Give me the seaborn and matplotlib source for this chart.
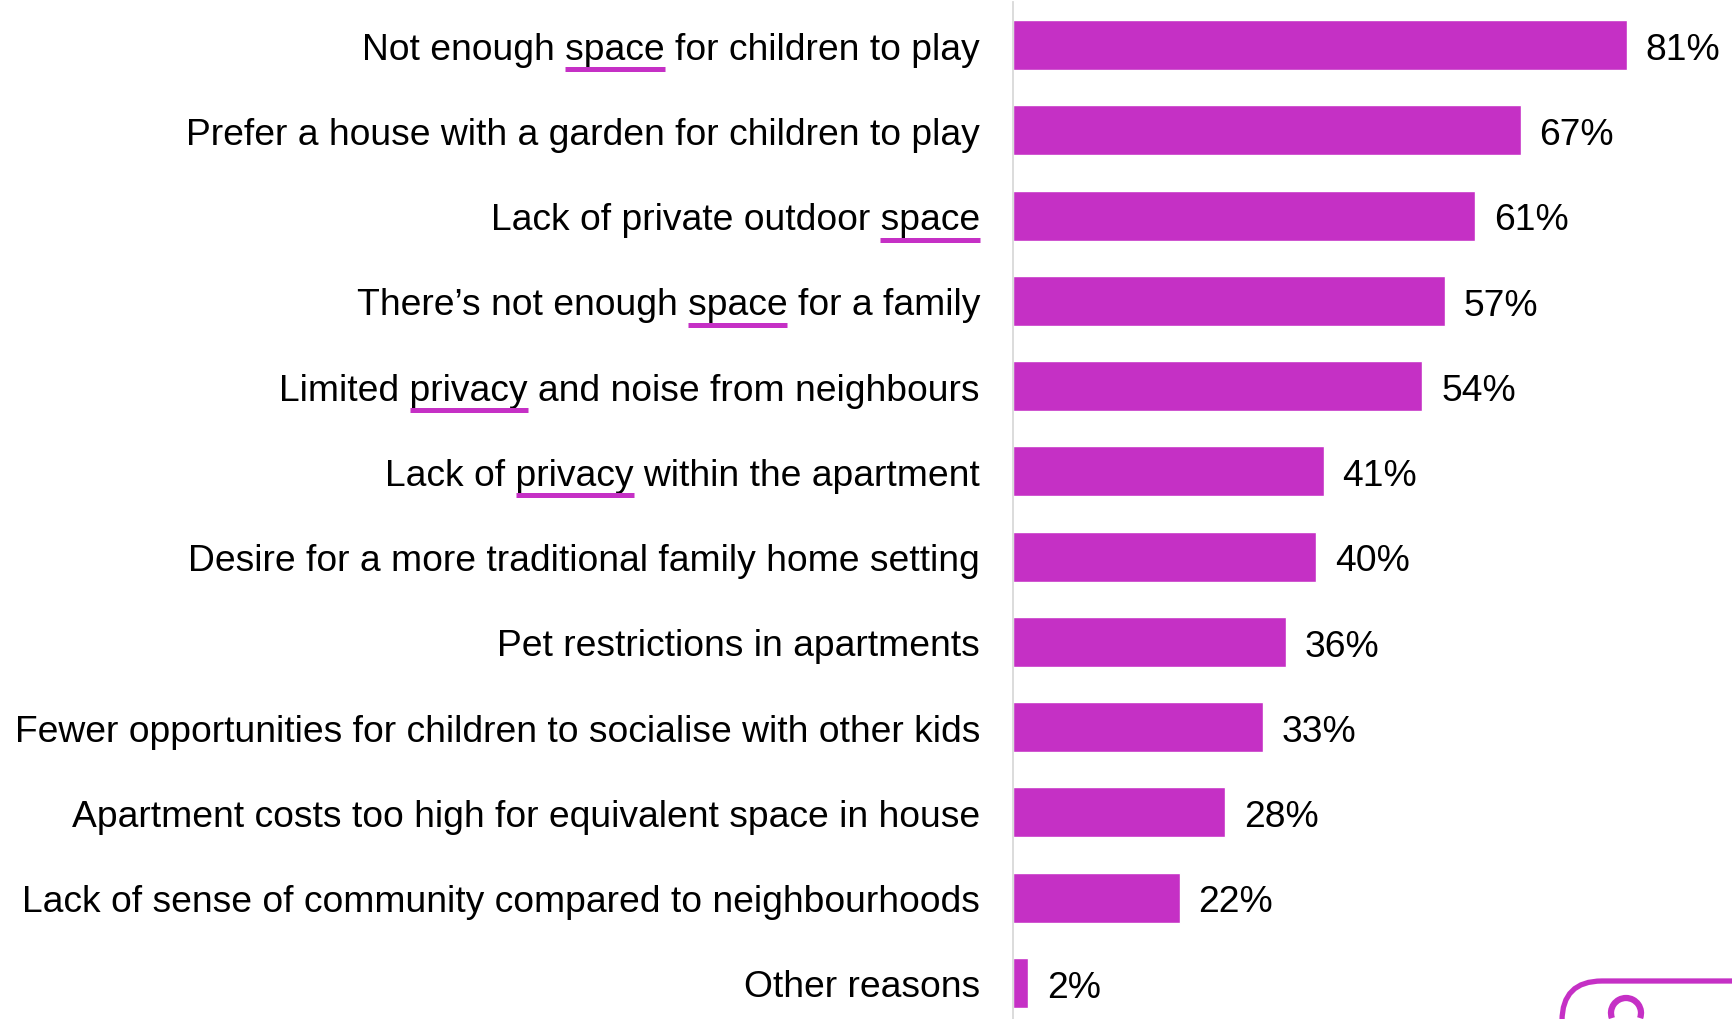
import matplotlib
matplotlib.use("Agg")
import matplotlib.pyplot as plt
import seaborn as sns
import pandas as pd
from matplotlib.lines import Line2D
from matplotlib.patches import FancyBboxPatch, Arc
from matplotlib.transforms import IdentityTransform

categories = [
    "Not enough space for children to play",
    "Prefer a house with a garden for children to play",
    "Lack of private outdoor space",
    "There\u2019s not enough space for a family",
    "Limited privacy and noise from neighbours",
    "Lack of privacy within the apartment",
    "Desire for a more traditional family home setting",
    "Pet restrictions in apartments",
    "Fewer opportunities for children to socialise with other kids",
    "Apartment costs too high for equivalent space in house",
    "Lack of sense of community compared to neighbourhoods",
    "Other reasons",
]
values = [81, 67, 61, 57, 54, 41, 40, 36, 33, 28, 22, 2]
value_labels = [f"{v}%" for v in values]
underlined = {0: "space", 2: "space", 3: "space", 4: "privacy", 5: "privacy"}

BAR = "#C530C5"
sns.set_theme(style="white")
plt.rcParams['font.family'] = ['Liberation Sans', 'DejaVu Sans']

W, H, DPI = 1732, 1020, 100
FS = 26.8
fig = plt.figure(figsize=(W / DPI, H / DPI), dpi=DPI)
fig.patch.set_facecolor("white")
ax = fig.add_axes([1013 / W, -6.6 / H, 712.5 / W, 1023.2 / H])

df = pd.DataFrame({"reason": categories, "pct": values})
sns.barplot(data=df, x="pct", y="reason", color=BAR, saturation=1,
            width=0.586, ax=ax, orient="h")
ax.set_xlim(0, 94)
ax.set_ylim(11.5, -0.5)
ax.set_xlabel("")
ax.set_ylabel("")
ax.set_xticks([])
ax.tick_params(axis="y", length=0, pad=23.8, labelsize=FS, labelcolor="black")
for s in ["top", "right", "bottom"]:
    ax.spines[s].set_visible(False)
ax.spines["left"].set_color("#D9D9D9")
ax.spines["left"].set_linewidth(1.3)

for cont in ax.containers:
    anns = ax.bar_label(cont, labels=value_labels, padding=13.5, fontsize=FS, color="black")
    for a in anns:
        a.xyann = (a.xyann[0], a.xyann[1] - 3.0)

# underline keywords in the category labels
fig.canvas.draw()
renderer = fig.canvas.get_renderer()
labels = ax.get_yticklabels()
for idx, word in underlined.items():
    lab = labels[idx]
    s = lab.get_text()
    pos = s.find(word)
    fp = lab.get_fontproperties()
    bb = lab.get_window_extent(renderer)
    w_from = renderer.get_text_width_height_descent(s[pos:], fp, ismath=False)[0]
    w_word = renderer.get_text_width_height_descent(word, fp, ismath=False)[0]
    x0 = bb.x1 - w_from
    x1 = x0 + w_word
    yc = ax.transData.transform((0, idx))[1] - 24.0
    fig.add_artist(Line2D([x0, x1], [yc, yc], transform=IdentityTransform(),
                          color=BAR, lw=3.6, solid_capstyle="butt"))

# partial logo at bottom right
fig.add_artist(FancyBboxPatch((1562, -80), 300, 118, boxstyle="round,pad=0,rounding_size=40",
                              transform=IdentityTransform(), fill=False,
                              edgecolor=BAR, lw=3.8, clip_on=False))
fig.add_artist(Arc((1626, 6), 30, 30, theta1=-20, theta2=200,
                   transform=IdentityTransform(), color=BAR, lw=4.5))

fig.savefig("out.png", dpi=DPI, facecolor="white")
